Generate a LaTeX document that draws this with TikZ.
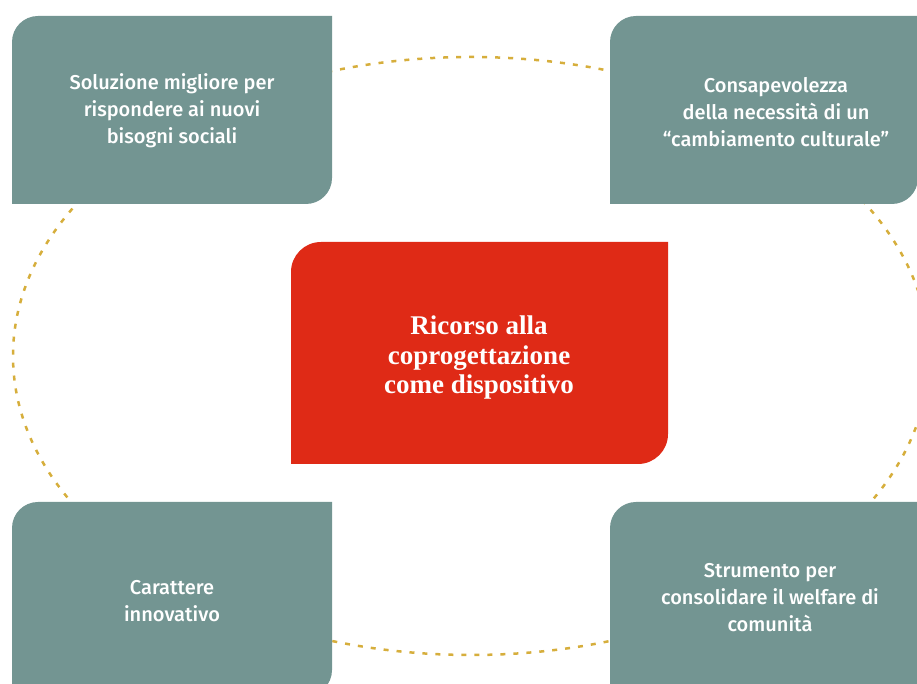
\documentclass[tikz,border=0pt]{standalone}
\usepackage{fontspec}
\newfontfamily\gsans{Fira Sans}[UprightFont={* Medium}]
\newfontfamily\cserif{Liberation Serif}
\definecolor{tealbox}{HTML}{739592}
\definecolor{redbox}{HTML}{DF2A16}
\definecolor{gold}{HTML}{D6AE3C}
\tikzset{
  greentext/.style={text=white, align=center, font=\gsans\fontsize{20}{27}\selectfont, inner sep=0pt},
  redtext/.style={text=white, align=center, font=\cserif\bfseries\fontsize{27}{29.5}\selectfont, inner sep=0pt},
  ring/.style={draw=gold, line width=2.5pt, dash pattern=on 5pt off 8pt}
}
% \cornerbox{colour}{x1}{y1}{x2}{y2}{r}: rounded top-left and bottom-right
\newcommand{\cornerbox}[6]{%
  \fill[#1] (#2,#3) -- (#2,#5-#6) arc[start angle=180,end angle=90,radius=#6]
    -- (#4,#5) -- (#4,#3+#6) arc[start angle=0,end angle=-90,radius=#6] -- cycle;}
\begin{document}
\begin{tikzpicture}[x=1pt,y=1pt]
\useasboundingbox (0,0) rectangle (917,684);
\clip (0,0) rectangle (917,684);
% dotted ring
\draw[ring] (471,328) ellipse [x radius=458, y radius=299];
% boxes
\cornerbox{tealbox}{12}{480}{332}{668}{26}
\cornerbox{tealbox}{610}{480}{918}{668}{26}
\cornerbox{tealbox}{12}{-12}{332}{182}{26}
\cornerbox{tealbox}{610}{-20}{935}{182}{26}
\cornerbox{redbox}{291}{220}{668}{442}{30}
% texts
\node[greentext] (tl) at (172,573) {Soluzione migliore per\\rispondere ai nuovi\\bisogni sociali};
\node[greentext] (tr) at (776,572) {Consapevolezza\\della necessità di un\\“cambiamento culturale”};
\node[greentext] (bl) at (172,82.5) {Carattere\\innovativo};
\node[greentext] (br) at (770,86) {Strumento per\\consolidare il welfare di\\comunità};
\node[redtext] (c) at (479,326) {Ricorso alla\\coprogettazione\\come dispositivo};
\end{tikzpicture}
\end{document}
